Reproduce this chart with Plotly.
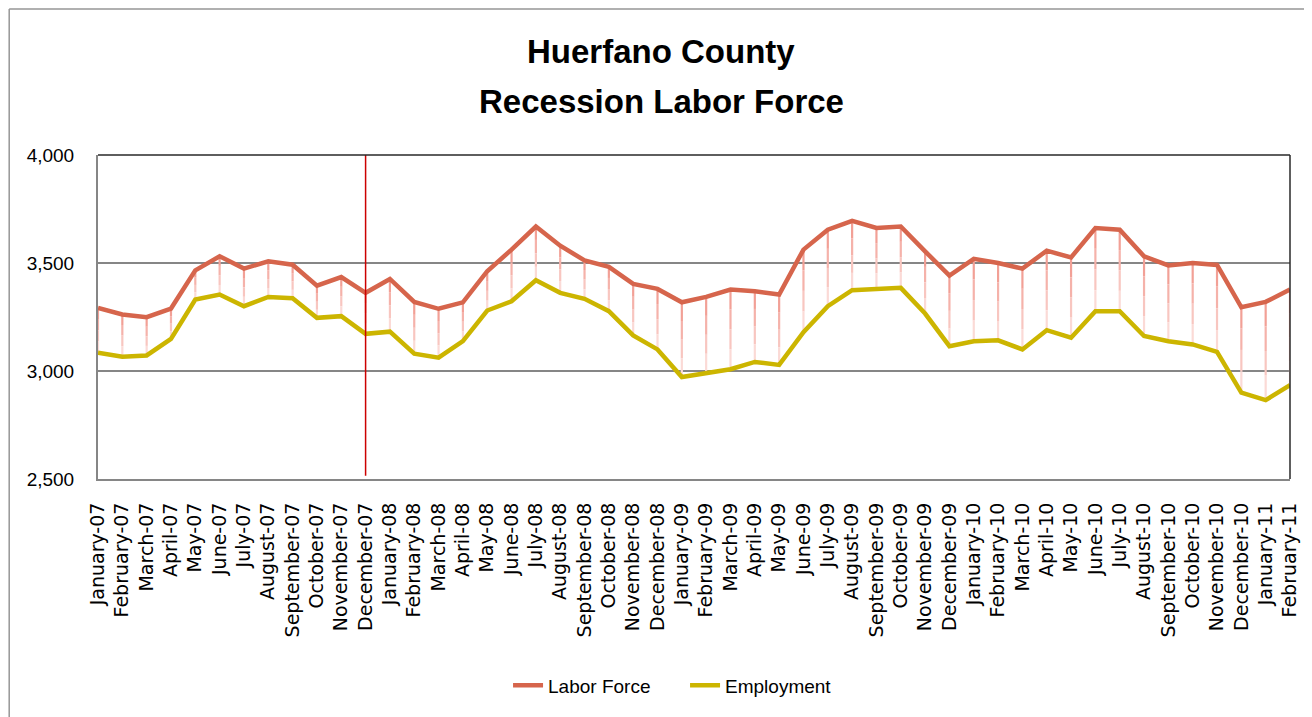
import plotly.graph_objects as go

months = ["January-07","February-07","March-07","April-07","May-07","June-07","July-07","August-07",
          "September-07","October-07","November-07","December-07",
          "January-08","February-08","March-08","April-08","May-08","June-08","July-08","August-08",
          "September-08","October-08","November-08","December-08",
          "January-09","February-09","March-09","April-09","May-09","June-09","July-09","August-09",
          "September-09","October-09","November-09","December-09",
          "January-10","February-10","March-10","April-10","May-10","June-10","July-10","August-10",
          "September-10","October-10","November-10","December-10",
          "January-11","February-11"]

labor_force = [3292, 3262, 3249, 3289, 3466, 3531, 3474, 3508, 3492, 3395, 3435, 3362,
               3426, 3320, 3288, 3318, 3462, 3562, 3669, 3580, 3512, 3482, 3403, 3380,
               3318, 3343, 3377, 3369, 3354, 3562, 3654, 3695, 3662, 3669, 3554, 3442,
               3519, 3500, 3474, 3557, 3526, 3662, 3654, 3531, 3489, 3500, 3491, 3295,
               3320, 3377]

employment = [3085, 3066, 3072, 3149, 3331, 3354, 3300, 3343, 3337, 3246, 3254, 3172,
              3182, 3080, 3062, 3138, 3280, 3323, 3420, 3362, 3334, 3277, 3165, 3100,
              2972, 2992, 3008, 3042, 3028, 3180, 3300, 3374, 3382, 3385, 3266, 3115,
              3138, 3142, 3100, 3189, 3154, 3277, 3277, 3162, 3138, 3123, 3089, 2900,
              2865, 2935]

title_lines = ["Huerfano County", "Recession Labor Force"]
recession_start = "December-07"
y_ticks = [2500, 3000, 3500, 4000]

LF_COLOR = "rgb(214,101,76)"
EMP_COLOR = "rgb(204,181,0)"

x = list(range(len(months)))
fig = go.Figure()

# high-low drop lines with a vertical gradient (approximated by segments)
grad = ["rgb(242,160,150)", "rgb(245,178,170)", "rgb(248,198,192)", "rgb(251,218,214)"]
nseg = len(grad)
for k, col in enumerate(grad):
    xs, ys = [], []
    for i in x:
        hi, lo = labor_force[i], employment[i]
        a = hi - (hi - lo) * k / nseg
        b = hi - (hi - lo) * (k + 1) / nseg
        xs += [i, i, None]
        ys += [a, b, None]
    fig.add_trace(go.Scatter(x=xs, y=ys, mode="lines", line=dict(color=col, width=2.2),
                             showlegend=False, hoverinfo="skip"))

fig.add_trace(go.Scatter(x=x, y=labor_force, mode="lines", name="Labor Force",
                         line=dict(color=LF_COLOR, width=4.5)))
fig.add_trace(go.Scatter(x=x, y=employment, mode="lines", name="Employment",
                         line=dict(color=EMP_COLOR, width=4.5)))

rx = months.index(recession_start)
shapes = [
    dict(type="line", xref="x", yref="paper", x0=rx, x1=rx, y0=0.01, y1=1,
         line=dict(color="rgb(204,0,0)", width=1.5)),
    # plot-area top & right border
    dict(type="line", xref="paper", yref="paper", x0=0, x1=1, y0=1, y1=1,
         line=dict(color="rgb(40,40,40)", width=1.5)),
    dict(type="line", xref="paper", yref="paper", x0=1, x1=1, y0=0, y1=1,
         line=dict(color="rgb(40,40,40)", width=1.5)),
    # outer chart frame (left and top)
    dict(type="line", xref="paper", yref="paper", x0=-0.0745, x1=-0.0745, y0=-0.75, y1=1.4506,
         line=dict(color="rgb(150,150,150)", width=1.5)),
    dict(type="line", xref="paper", yref="paper", x0=-0.0745, x1=1.02, y0=1.4506, y1=1.4506,
         line=dict(color="rgb(150,150,150)", width=1.5)),
]

title_font = dict(family="Liberation Sans, Arial, sans-serif", size=33, color="black")
annotations = [
    dict(text="<b>%s</b>" % title_lines[0], xref="paper", yref="paper", x=0.4725, y=1.32,
         xanchor="center", yanchor="middle", showarrow=False, font=title_font),
    dict(text="<b>%s</b>" % title_lines[1], xref="paper", yref="paper", x=0.4725, y=1.1646,
         xanchor="center", yanchor="middle", showarrow=False, font=title_font),
]

fig.update_layout(
    width=1304, height=709,
    margin=dict(l=90, r=14, t=147, b=237),
    paper_bgcolor="white", plot_bgcolor="white",
    xaxis=dict(range=[0, len(months) - 1], tickmode="array", tickvals=x, ticktext=months,
               tickangle=-90, showgrid=False, zeroline=False,
               showline=True, linecolor="rgb(134,134,134)", linewidth=2,
               tickfont=dict(family="DejaVu Sans, sans-serif", size=19, color="black"),
               ticks="", ticklabelstandoff=14),
    yaxis=dict(range=[2500, 4000], tickmode="array", tickvals=y_ticks, tickformat=",",
               showgrid=True, gridcolor="rgb(134,134,134)", gridwidth=1.5, zeroline=False,
               showline=True, linecolor="rgb(134,134,134)", linewidth=2,
               tickfont=dict(family="Liberation Sans, Arial, sans-serif", size=19, color="black"),
               ticks="", ticklabelstandoff=18),
    legend=dict(orientation="h", x=0.344, xanchor="left", y=-0.637, yanchor="middle",
                font=dict(family="Liberation Sans, Arial, sans-serif", size=19, color="black"),
                bgcolor="rgba(0,0,0,0)", entrywidth=132, entrywidthmode="pixels"),
    annotations=annotations,
    shapes=shapes,
    showlegend=True,
)

fig.write_html("out.html")
